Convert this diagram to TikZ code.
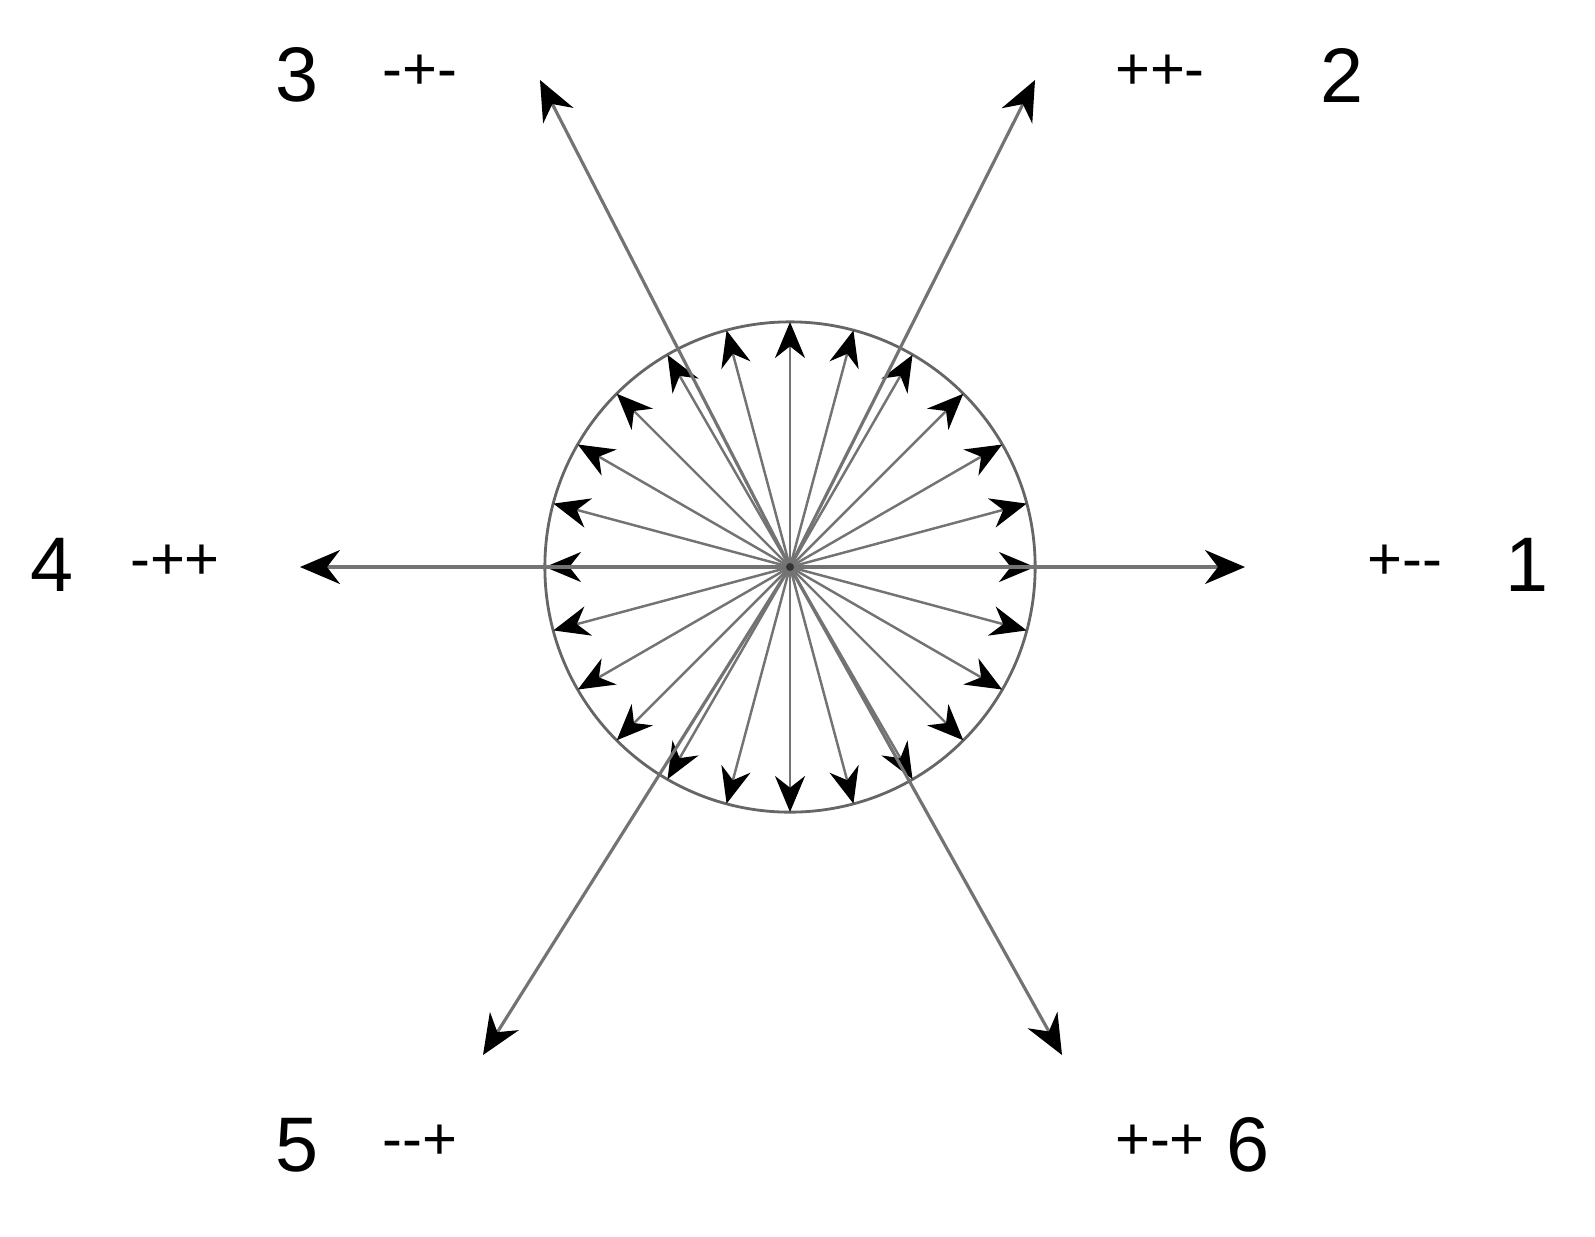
\documentclass[tikz,border=0pt]{standalone}
\usepackage{fontspec}
\setmainfont{Liberation Sans}[Ligatures=NoCommon]
\usetikzlibrary{arrows.meta,calc}
\begin{document}
\begin{tikzpicture}[x=0.01cm,y=-0.01cm,
  longarr/.style={draw=black!55,line width=0.9pt,-{Stealth[length=4mm,width=3.4mm,black]}},
  shortarr/.style={draw=black!55,line width=0.7pt,-{Stealth[length=3.6mm,width=3mm,black]}},
  dig/.style={font=\fontsize{22}{24}\selectfont},
  sgn/.style={font=\fontsize{17}{19}\selectfont}]
\useasboundingbox (0,0) rectangle (1595,1236);
\coordinate (c) at (790,567);
\node[draw=black!60,line width=0.8pt,circle,minimum size=4.9cm,inner sep=0pt] (circ) at (c) {};
\foreach \a in {0,15,...,345}{
  \coordinate (t\a) at ($(c)+(\a:245 and -245)$);
  \draw[shortarr] (c) -- (t\a);
}
\coordinate (e1) at (1245,567);
\coordinate (e2) at (1035,80);
\coordinate (e3) at (540,80);
\coordinate (e4) at (300,567);
\coordinate (e5) at (483,1055);
\coordinate (e6) at (1062,1055);
\foreach \e in {e1,e2,e3,e4,e5,e6} \draw[longarr] (c) -- (\e);
\fill[black!80] (c) circle (4);
\node[dig] (n3) at (297,75) {3};   \node[sgn] (s3) at (420,72) {-+-};
\node[sgn] (s2) at (1160,72) {++-}; \node[dig] (n2) at (1342,75) {2};
\node[dig] (n4) at (52,565) {4};   \node[sgn] (s4) at (175,562) {-++};
\node[sgn] (s1) at (1405,562) {+{-}{-}}; \node[dig] (n1) at (1527,565) {1};
\node[dig] (n5) at (297,1145) {5}; \node[sgn] (s5) at (420,1142) {{-}{-}+};
\node[sgn] (s6) at (1160,1142) {+-+}; \node[dig] (n6) at (1248,1145) {6};
\end{tikzpicture}
\end{document}
